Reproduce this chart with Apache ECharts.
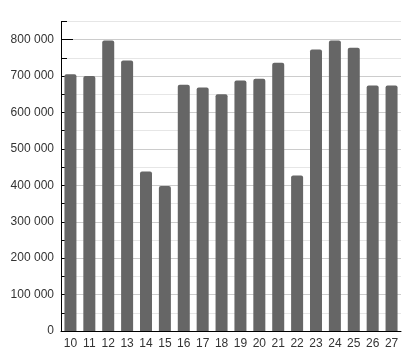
<!DOCTYPE html>
<html>
<head>
<meta charset="utf-8">
<script src="https://cdn.jsdelivr.net/npm/echarts@6/dist/echarts.min.js"></script>
<style>html,body{margin:0;padding:0;background:#fff}#c{width:416px;height:359px}</style>
</head>
<body>
<div id="c"></div>
<script>
const categories = ['10','11','12','13','14','15','16','17','18','19','20','21','22','23','24','25','26','27'];
const values = [705000,700000,798000,743000,438000,398000,676000,669000,650000,688000,693000,737000,427000,773000,798000,778000,674000,674000];
const majorTicks = [0,100000,200000,300000,400000,500000,600000,700000,800000];

const chart = echarts.init(document.getElementById('c'), null, {renderer:'canvas'});
chart.setOption({
  animation: false,
  grid: {left: 61, right: 15, top: 21.5, bottom: 28, containLabel: false},
  xAxis: {
    type: 'category',
    data: categories,
    axisLine: {lineStyle: {color: '#000', width: 1}},
    axisTick: {show: false},
    axisLabel: {color: '#333', fontSize: 12, fontFamily: 'Liberation Sans, Arial', margin: 7},
    splitLine: {show: false}
  },
  yAxis: [{
    type: 'value',
    min: 0, max: 850000, interval: 100000,
    axisLine: {show: true, lineStyle: {color: '#000', width: 1}},
    axisTick: {show: true, inside: true, length: 12, customValues: majorTicks, lineStyle: {color: '#000'}},
    axisLabel: {color: '#333', fontSize: 12, fontFamily: 'Liberation Sans, Arial', margin: 7,
      customValues: majorTicks,
      formatter: v => String(v).replace(/\B(?=(\d{3})+(?!\d))/g, ' ')},
    splitLine: {show: false}
  }, {
    type: 'value',
    position: 'left',
    min: 0, max: 850000, interval: 50000,
    axisLine: {show: false},
    axisTick: {show: true, inside: true, length: 6, lineStyle: {color: '#000'}},
    axisLabel: {show: false},
    splitLine: {show: true, lineStyle: {color: ['#ccc', '#e6e6e6']}}
  }],
  series: [{
    type: 'bar',
    data: values,
    barWidth: 12,
    itemStyle: {color: '#666', borderRadius: [2,2,0,0]}
  }]
});
</script>
</body>
</html>
